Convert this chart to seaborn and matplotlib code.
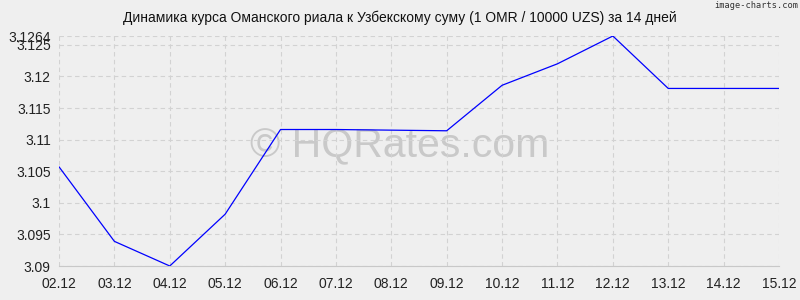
import matplotlib
matplotlib.use("Agg")
import matplotlib.pyplot as plt
import seaborn as sns
import pandas as pd

dates = ["02.12", "03.12", "04.12", "05.12", "06.12", "07.12", "08.12",
         "09.12", "10.12", "11.12", "12.12", "13.12", "14.12", "15.12"]
rates = [3.1057, 3.0939, 3.0900, 3.0982, 3.1116, 3.1116, 3.1115,
         3.1114, 3.1186, 3.1220, 3.1264, 3.1181, 3.1181, 3.1181]
y_ticks = [3.09, 3.095, 3.1, 3.105, 3.11, 3.115, 3.12, 3.125, 3.1264]
y_labels = ["3.09", "3.095", "3.1", "3.105", "3.11", "3.115", "3.12", "3.125", "3.1264"]
title = "Динамика курса Оманского риала к Узбекскому суму (1 OMR / 10000 UZS) за 14 дней"

sns.set_theme(style="white")
plt.rcParams["font.family"] = ["Liberation Sans", "DejaVu Sans"]

bg = "#efefef"
df = pd.DataFrame({"idx": list(range(len(dates))), "rate": rates})

fig = plt.figure(figsize=(8, 3), dpi=100, facecolor=bg)
ax = fig.add_axes([59 / 800, 34 / 300, 720 / 800, 230 / 300])
ax.set_facecolor(bg)

sns.lineplot(data=df, x="idx", y="rate", ax=ax, color="#0000ff", linewidth=0.9)

ax.set_xlim(0, len(dates) - 1)
ax.set_ylim(min(y_ticks), max(y_ticks))
ax.set_xticks(range(len(dates)))
ax.set_xticklabels(dates)
ax.set_yticks(y_ticks)
ax.set_yticklabels(y_labels)
ax.set_xlabel("")
ax.set_ylabel("")

ax.grid(True, color="#d2d2d2", linestyle=(0, (4, 3)), linewidth=0.8)
for s in ax.spines.values():
    s.set_visible(False)
ax.spines["bottom"].set_visible(True)
ax.spines["bottom"].set_color("#c8c8c8")
ax.spines["bottom"].set_linewidth(0.8)

ax.tick_params(axis="both", labelsize=10, colors="#222222", length=5,
               width=0.8, color="#d2d2d2", pad=3)
ax.tick_params(axis="y", length=3)

fig.text(0.5, 1 - 18 / 300, title, ha="center", va="center",
         fontsize=10, color="#111111")
fig.text(0.998, 1 - 6 / 300, "image-charts.com", ha="right", va="center",
         fontsize=6.2, color="#333333", family=["DejaVu Sans Mono"])
ax.text((400 - 59) / 720, (266 - 146) / 230, "© HQRates.com", transform=ax.transAxes,
        ha="center", va="center", fontsize=29.5, color="#c9c9c9", zorder=0.5)

fig.savefig("out.png", dpi=100, facecolor=bg)
